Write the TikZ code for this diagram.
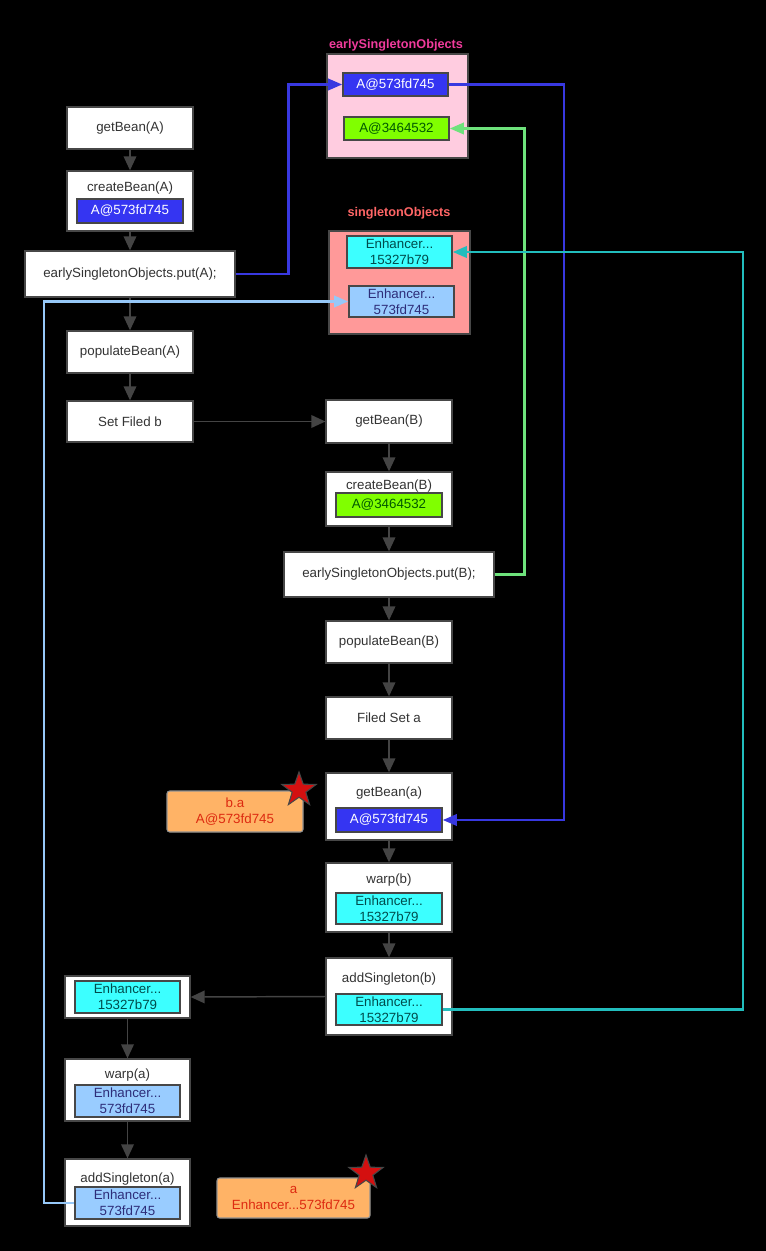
\documentclass[tikz,border=0pt]{standalone}
\usepackage{fontspec}
\setmainfont{Liberation Sans}
\usetikzlibrary{arrows.meta,shapes.geometric}

\definecolor{boxgray}{HTML}{474747}
\definecolor{textgray}{HTML}{333333}
\definecolor{arrowgray}{HTML}{444444}
\definecolor{objblue}{HTML}{3535F2}
\definecolor{objgreen}{HTML}{80FF00}
\definecolor{objcyan}{HTML}{3CFFFF}
\definecolor{objlight}{HTML}{99CCFF}
\definecolor{earlypink}{HTML}{FFCCE0}
\definecolor{singlered}{HTML}{FF9999}
\definecolor{notebg}{HTML}{FFB366}
\definecolor{notetext}{HTML}{DD2A10}
\definecolor{starred}{HTML}{D41010}
\definecolor{lineblue}{HTML}{3838E0}
\definecolor{linegreen}{HTML}{6EE27C}
\definecolor{linecyan}{HTML}{22BDBD}
\definecolor{linelight}{HTML}{96C8F8}

\begin{document}
\begin{tikzpicture}[x=0.75pt,y=-0.75pt,
  every node/.style={font=\fontsize{10}{12}\selectfont, inner sep=0pt},
  sz/.style 2 args={minimum width=#1*0.75pt, minimum height=#2*0.75pt},
  box/.style={draw=boxgray, fill=white, line width=1pt, text=textgray},
  obj/.style={draw=boxgray, line width=1.2pt, align=center},
  blueobj/.style={obj, fill=objblue, text=white},
  greenobj/.style={obj, fill=objgreen, text=green!35!black},
  cyanobj/.style={obj, fill=objcyan, text=teal!60!black},
  lightobj/.style={obj, fill=objlight, text=blue!30!darkgray},
  store/.style={draw=boxgray, line width=1.2pt},
  note/.style={draw=boxgray!60, fill=notebg, rounded corners=2pt, line width=0.8pt, text=notetext, align=center},
  hotstar/.style={star, star points=5, star point ratio=2.5, minimum size=27pt, fill=starred, draw=boxgray, line width=0.8pt},
  flow/.style={draw=arrowgray, line width=1.1pt, -{Triangle[length=10.5pt,width=9.5pt]}},
  link/.style={line width=1.8pt, -{Triangle[length=10.5pt,width=8.5pt]}}]

  \fill[black] (0,0) rectangle (766,1251);

  % caches
  \node[text=magenta!70!pink, font=\fontsize{9.5}{11}\bfseries] (earlyL) at (396,45) {earlySingletonObjects};
  \node[store, fill=earlypink, sz={141}{104}] (early) at (397.5,106) {};
  \node[blueobj, sz={105}{23}] (e1) at (395.5,84.5) {A@573fd745};
  \node[greenobj, sz={105}{23}] (e2) at (396.5,128.5) {A@3464532};

  \node[text=red!60!white, font=\fontsize{9.5}{11}\bfseries] (singleL) at (399,213) {singletonObjects};
  \node[store, fill=singlered, sz={141}{103}] (single) at (399.5,282.5) {};
  \node[cyanobj, sz={105}{32}] (s1) at (399.5,252) {Enhancer...\\15327b79};
  \node[lightobj, sz={105}{31}] (s2) at (401.5,301.5) {Enhancer...\\573fd745};

  % bean A
  \node[box, sz={126}{42}] (gbA) at (130,128) {getBean(A)};
  \node[box, sz={126}{60}] (cbA) at (130,201) {};
  \node[text=textgray] (cbAt) at (130,188) {createBean(A)};
  \node[blueobj, sz={106}{24}] (cbA1) at (130,211) {A@573fd745};
  \node[box, sz={210}{46}] (putA) at (130,274) {earlySingletonObjects.put(A);};
  \node[box, sz={126}{42}] (popA) at (130,352) {populateBean(A)};
  \node[box, sz={126}{41}] (setb) at (130,421.5) {Set Filed b};

  % bean B
  \node[box, sz={126}{43}] (gbB) at (389,421.5) {getBean(B)};
  \node[box, sz={126}{54}] (cbB) at (389,499) {};
  \node[text=textgray] (cbBt) at (389,486) {createBean(B)};
  \node[greenobj, sz={106}{24}] (cbB1) at (389,505) {A@3464532};
  \node[box, sz={210}{45}] (putB) at (389,574.5) {earlySingletonObjects.put(B);};
  \node[box, sz={126}{42}] (popB) at (389,642) {populateBean(B)};
  \node[box, sz={126}{42}] (fsa) at (389,718) {Filed Set a};
  \node[box, sz={126}{67}] (gba) at (389,806.5) {};
  \node[text=textgray] (gbat) at (389,793) {getBean(a)};
  \node[blueobj, sz={106}{24}] (gba1) at (389,820) {A@573fd745};
  \node[box, sz={126}{69}] (wb) at (389,897.5) {};
  \node[text=textgray] (wbt) at (389,880) {warp(b)};
  \node[cyanobj, sz={106}{31}] (wb1) at (389,908.5) {Enhancer...\\15327b79};
  \node[box, sz={126}{77}] (asb) at (389,996.5) {};
  \node[text=textgray] (asbt) at (389,979) {addSingleton(b)};
  \node[cyanobj, sz={106}{31}] (asb1) at (389,1009.5) {Enhancer...\\15327b79};

  % back to A
  \node[box, sz={125}{42}] (enb) at (127.5,997) {};
  \node[cyanobj, sz={105}{32}] (enb1) at (127.5,997) {Enhancer...\\15327b79};
  \node[box, sz={125}{62}] (wa) at (127.5,1090) {};
  \node[text=textgray] (wat) at (127.5,1075) {warp(a)};
  \node[lightobj, sz={105}{32}] (wa1) at (127.5,1101) {Enhancer...\\573fd745};
  \node[box, sz={125}{67}] (asa) at (127.5,1192.5) {};
  \node[text=textgray] (asat) at (127.5,1179) {addSingleton(a)};
  \node[lightobj, sz={105}{32}] (asa1) at (127.5,1203) {Enhancer...\\573fd745};

  % notes
  \node[note, sz={136}{41}] (ba) at (235,811.5) {b.a\\A@573fd745};
  \node[note, sz={153}{40}] (aa) at (293.5,1198) {a\\Enhancer...573fd745};
  \node[hotstar] (baS) at (299,790) {};
  \node[hotstar] (aaS) at (366,1173) {};

  % flow
  \draw[flow] (gbA) -- (cbA);
  \draw[flow] (cbA) -- (putA);
  \draw[flow] (putA) -- (popA);
  \draw[flow] (popA) -- (setb);
  \draw[flow] (setb) -- (gbB);
  \draw[flow] (gbB) -- (cbB);
  \draw[flow] (cbB) -- (putB);
  \draw[flow] (putB) -- (popB);
  \draw[flow] (popB) -- (fsa);
  \draw[flow] (fsa) -- (gba);
  \draw[flow] (gba) -- (wb);
  \draw[flow] (wb) -- (asb);
  \draw[flow] (asb.west) -- (enb.east);
  \draw[flow] (enb) -- (wa);
  \draw[flow] (wa) -- (asa);

  % cache links
  \draw[link, lineblue] (putA.east) -- ++(53,0) |- (e1.west);
  \draw[link, lineblue] (e1.east) -- ++(115,0) |- (gba1.east);
  \draw[link, linegreen] (putB.east) -- ++(30,0) |- (e2.east);
  \draw[link, linecyan] (asb1.east) -- ++(300,0) |- (s1.east);
  \draw[link, linelight] (asa1.west) -- ++(-30,0) |- (s2.west);

\end{tikzpicture}
\end{document}
